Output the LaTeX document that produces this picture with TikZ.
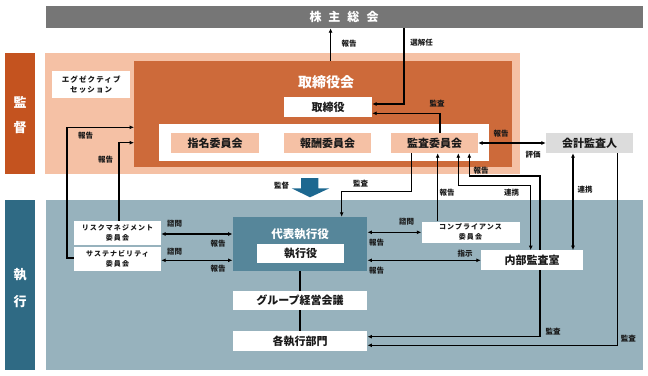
\documentclass[tikz,border=0pt]{standalone}
\usepackage{fontspec}
\setmainfont{Noto Sans CJK JP}
\usetikzlibrary{arrows.meta}
\definecolor{barG}{HTML}{767676}
\definecolor{kanO}{HTML}{C4531F}
\definecolor{salm}{HTML}{F5C1A5}
\definecolor{darkO}{HTML}{CD6A3A}
\definecolor{lgray}{HTML}{DCDCDC}
\definecolor{shiB}{HTML}{2F6A84}
\definecolor{regB}{HTML}{97B2BD}
\definecolor{repB}{HTML}{56869A}
\definecolor{arrB}{HTML}{1D6890}
\definecolor{txt}{HTML}{1A1A1A}
\tikzset{
  rbox/.style={rectangle, inner sep=0pt, align=center, text=txt},
  wbox/.style={rbox, fill=white, font=\fontsize{11}{12}\selectfont\bfseries},
  sbox/.style={rbox, fill=white, font=\fontsize{7}{9.5}\selectfont\bfseries\addfontfeature{LetterSpace=15}},
  lbl/.style={inner sep=0pt, font=\fontsize{7.5}{8}\selectfont\bfseries, text=txt},
  arr/.style={-{Latex[length=4.5pt,width=4pt]}, line width=1.1pt, draw=black},
  darr/.style={{Latex[length=4.5pt,width=4pt]}-{Latex[length=4.5pt,width=4pt]}, line width=1.1pt, draw=black},
  ln/.style={line width=1.1pt, draw=black},
}
\begin{document}
\begin{tikzpicture}[x=1pt,y=-1pt]
\path[use as bounding box] (0,0) rectangle (648,375);
% top bar
\node[rbox, fill=barG, minimum width=597pt, minimum height=22pt, text=white,
  font=\fontsize{12}{12}\selectfont\bfseries] (bar) at (344,17) {株\hspace{7pt}主\hspace{7pt}総\hspace{7pt}会};
% side labels
\node[rbox, fill=kanO, minimum width=30pt, minimum height=121pt] (lkan) at (20,113.5) {};
\node[inner sep=0pt, text=white, font=\fontsize{13}{13}\selectfont\bfseries] (lkan1) at (20,102) {監};
\node[inner sep=0pt, text=white, font=\fontsize{13}{13}\selectfont\bfseries] (lkan2) at (20,128) {督};
\node[rbox, fill=shiB, minimum width=30pt, minimum height=170pt] (lshi) at (20,285) {};
\node[inner sep=0pt, text=white, font=\fontsize{13}{13}\selectfont\bfseries] (lshi1) at (20,275) {執};
\node[inner sep=0pt, text=white, font=\fontsize{13}{13}\selectfont\bfseries] (lshi2) at (20,302) {行};
% supervision area
\node[rbox, fill=salm, minimum width=474.5pt, minimum height=120.7pt] (outer) at (282.25,113.65) {};
\node[rbox, fill=darkO, minimum width=377.5pt, minimum height=106pt] (dark) at (323,114) {};
\node[inner sep=0pt, text=white, font=\fontsize{14}{14}\selectfont\bfseries] (bdtitle) at (326,82) {取締役会};
\node[wbox, minimum width=88pt, minimum height=20pt] (tyaku) at (328,107) {取締役};
\node[rbox, fill=white, minimum width=330pt, minimum height=37pt] (row) at (324,142.5) {};
\node[wbox, fill=salm, minimum width=88pt, minimum height=20pt] (shimei) at (215,143) {指名委員会};
\node[wbox, fill=salm, minimum width=87pt, minimum height=20pt] (houshu) at (327.5,143) {報酬委員会};
\node[wbox, fill=salm, minimum width=87pt, minimum height=20pt] (kiin) at (434.5,143) {監査委員会};
\node[sbox, minimum width=77.7pt, minimum height=27.6pt, font=\fontsize{7.5}{10.5}\selectfont\bfseries\addfontfeature{LetterSpace=15}] (exs) at (91.2,84.5) {エグゼクティブ\\セッション};
\node[wbox, fill=lgray, minimum width=87pt, minimum height=20pt] (kaikei) at (589.5,143) {会計監査人};
% execution area
\node[rbox, fill=regB, minimum width=597pt, minimum height=170pt] (execreg) at (344,285) {};
\node[rbox, fill=repB, minimum width=134.5pt, minimum height=54pt] (daihyo) at (300,244) {};
\node[inner sep=0pt, text=white, font=\fontsize{11.5}{12}\selectfont\bfseries] (dtitle) at (300,234) {代表執行役};
\node[wbox, minimum width=87pt, minimum height=19pt] (syaku) at (300.5,253.5) {執行役};
\node[sbox, minimum width=87pt, minimum height=24pt] (risk) at (117.5,233) {リスクマネジメント\\委員会};
\node[sbox, minimum width=87pt, minimum height=24pt] (sust) at (117.5,259) {サステナビリティ\\委員会};
\node[sbox, minimum width=98pt, minimum height=21pt] (compl) at (470.5,232) {コンプライアンス\\委員会};
\node[wbox, minimum width=102pt, minimum height=19.7pt] (naibu) at (532,260.2) {内部監査室};
\node[wbox, minimum width=134.5pt, minimum height=19pt] (group) at (300,300.5) {グループ経営会議};
\node[wbox, minimum width=134.5pt, minimum height=20pt] (kaku) at (300,341) {各執行部門};
% blue block arrow
\fill[arrB] (301,178) -- (318.3,178) -- (318.3,188.3) -- (329.3,188.3) -- (310,197.3) -- (291.7,188.3) -- (301,188.3) -- cycle;
% helper coordinates
\coordinate (xrep) at (330.6,0);
\coordinate (xsen) at (404,0);
\coordinate (ysen) at (0,104);
\coordinate (xka) at (440,0);
\coordinate (yka) at (0,113.3);
\coordinate (cL1) at (67,127.3);
\coordinate (cL2) at (119,142.7);
\coordinate (ysL) at (0,258);
\coordinate (ykk) at (0,143);
\coordinate (xa1) at (411.7,191.7);
\coordinate (xa2) at (341.7,191.7);
\coordinate (xc) at (437.7,0);
\coordinate (cR1) at (458.3,185.7);
\coordinate (cR2) at (530.7,185.7);
\coordinate (cR3) at (469.3,176);
\coordinate (cR4) at (540,176);
\coordinate (xk1) at (573,0);
\coordinate (cK2) at (617.3,345.3);
\coordinate (cN2) at (540,336.7);
\coordinate (yr1) at (0,234);
\coordinate (yr2) at (0,260.3);
\coordinate (yc1) at (0,232.3);
\coordinate (yn1) at (0,260.3);
% connectors
\draw[arr] (dark.north -| xrep) -- (bar.south -| xrep);
\draw[arr] (bar.south -| xsen) -- (xsen |- ysen) -- (tyaku.east |- ysen);
\draw[arr] (kiin.north -| xka) -- (xka |- yka) -- (tyaku.east |- yka);
\draw[darr] (kiin.east |- ykk) -- (kaikei.west |- ykk);
\draw[arr] (sust.west |- ysL) -- (cL1 |- ysL) -- (cL1) -- (cL1 -| dark.west);
\draw[arr] (risk.north -| cL2) -- (cL2) -- (cL2 -| dark.west);
\draw[arr] (kiin.south -| xa1) -- (xa1) -- (xa2) -- (daihyo.north -| xa2);
\draw[arr] (compl.north -| xc) -- (kiin.south -| xc);
\draw[darr] (kiin.south -| cR1) -- (cR1) -- (cR2) -- (naibu.north -| cR2);
\draw[arr] (naibu.north -| cR4) -- (cR4) -- (cR3) -- (kiin.south -| cR3);
\draw[darr] (kaikei.south -| xk1) -- (naibu.north -| xk1);
\draw[arr] (kaikei.south -| cK2) -- (cK2) -- (kaku.east |- cK2);
\draw[arr] (naibu.south -| cN2) -- (cN2) -- (kaku.east |- cN2);
\draw[darr] (risk.east |- yr1) -- (daihyo.west |- yr1);
\draw[darr] (sust.east |- yr2) -- (daihyo.west |- yr2);
\draw[darr] (daihyo.east |- yc1) -- (compl.west |- yc1);
\draw[darr] (daihyo.east |- yn1) -- (naibu.west |- yn1);
\draw[ln] (daihyo.south) -- (group.north);
\draw[ln] (group.south) -- (kaku.north);
% labels
\node[lbl] (t1) at (349,44) {報告};
\node[lbl] (t2) at (421.5,43) {選解任};
\node[lbl] (t3) at (437,104) {監査};
\node[lbl] (t4) at (501,134) {報告};
\node[lbl] (t5) at (533,155) {評価};
\node[lbl] (t6) at (85.7,136) {報告};
\node[lbl] (t7) at (105.7,159.3) {報告};
\node[lbl] (t8) at (281.7,185.7) {監督};
\node[lbl] (t9) at (360.7,183.3) {監査};
\node[lbl] (t10) at (447,193) {報告};
\node[lbl] (t11) at (511.7,193) {連携};
\node[lbl] (t12) at (481,170.7) {報告};
\node[lbl] (t13) at (585,190) {連携};
\node[lbl] (t14) at (174.5,224) {諮問};
\node[lbl] (t15) at (218,243.3) {報告};
\node[lbl] (t16) at (174.5,252) {諮問};
\node[lbl] (t17) at (218,269) {報告};
\node[lbl] (t18) at (406.7,221.7) {諮問};
\node[lbl] (t19) at (376.7,242.7) {報告};
\node[lbl] (t20) at (465,253.3) {指示};
\node[lbl] (t21) at (376.7,270.7) {報告};
\node[lbl] (t22) at (553,331.7) {監査};
\node[lbl] (t23) at (628.3,339) {監査};
\end{tikzpicture}
\end{document}
